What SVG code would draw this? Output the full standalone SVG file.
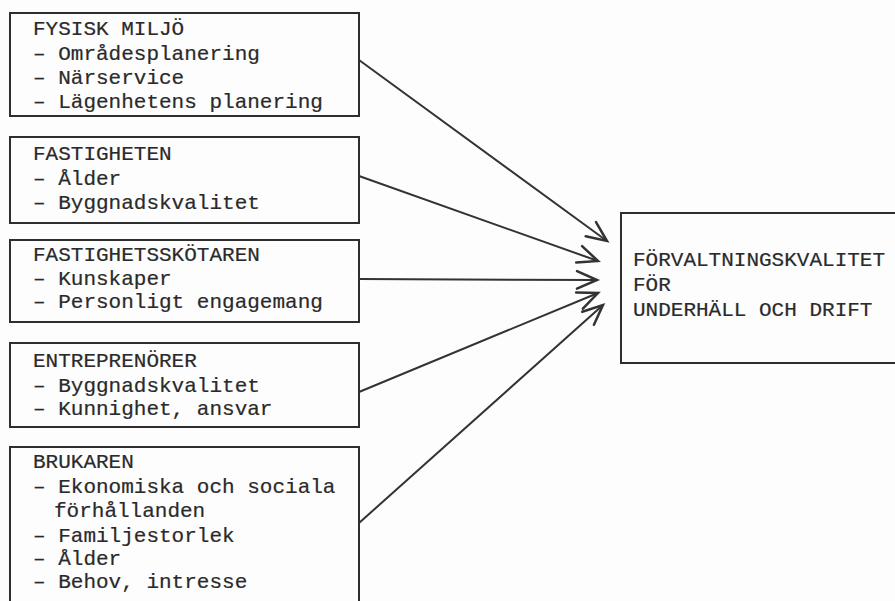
<svg xmlns="http://www.w3.org/2000/svg" width="895" height="601" viewBox="0 0 895 601">
<style>
.bg{fill:#fdfdfd}
.box{fill:none;stroke:#2e2e2e;stroke-width:2}
.t{font-family:"Liberation Mono","Courier New",monospace;font-size:21px;fill:#2a2a2a;stroke:#2a2a2a;stroke-width:0.2}
.c{fill:none;stroke:#333;stroke-width:2;stroke-linecap:round}
</style>
<defs>
<marker id="ah" markerUnits="userSpaceOnUse" markerWidth="30" markerHeight="30" viewBox="-20 -10 24 20" refX="0" refY="0" orient="auto">
<path d="M-16,-7 L0,0 L-16,7" fill="none" stroke="#333" stroke-width="2" stroke-linecap="round" stroke-linejoin="miter"/>
</marker>
</defs>
<rect class="bg" x="0" y="0" width="895" height="601"/>
<g id="n1">
<rect class="box" x="10" y="13" width="349" height="103"/>
<text class="t" x="33" y="35">FYSISK MILJÖ</text>
<text class="t" x="33" y="60">– Områdesplanering</text>
<text class="t" x="33" y="84">– Närservice</text>
<text class="t" x="33" y="108">– Lägenhetens planering</text>
</g>
<g id="n2">
<rect class="box" x="10" y="137" width="349" height="86"/>
<text class="t" x="33" y="160">FASTIGHETEN</text>
<text class="t" x="33" y="185">– Ålder</text>
<text class="t" x="33" y="209">– Byggnadskvalitet</text>
</g>
<g id="n3">
<rect class="box" x="10" y="240" width="349" height="82"/>
<text class="t" x="33" y="261">FASTIGHETSSKÖTAREN</text>
<text class="t" x="33" y="285">– Kunskaper</text>
<text class="t" x="33" y="308">– Personligt engagemang</text>
</g>
<g id="n4">
<rect class="box" x="10" y="343" width="349" height="84"/>
<text class="t" x="33" y="367">ENTREPRENÖRER</text>
<text class="t" x="33" y="392">– Byggnadskvalitet</text>
<text class="t" x="33" y="415">– Kunnighet, ansvar</text>
</g>
<g id="n5">
<path class="box" d="M10,601 V447 H359 V601"/>
<text class="t" x="33" y="468">BRUKAREN</text>
<text class="t" x="33" y="493">– Ekonomiska och sociala</text>
<text class="t" x="54" y="517">förhållanden</text>
<text class="t" x="33" y="542">– Familjestorlek</text>
<text class="t" x="33" y="565">– Ålder</text>
<text class="t" x="33" y="588">– Behov, intresse</text>
</g>
<g id="n6">
<path class="box" d="M897,213 H621 V363 H897"/>
<text class="t" x="633" y="266">FÖRVALTNINGSKVALITET</text>
<text class="t" x="633" y="291">FÖR</text>
<text class="t" x="633" y="316">UNDERHÄLL OCH DRIFT</text>
</g>
<g id="connectors">
<line class="c" x1="359" y1="60" x2="607" y2="241" marker-end="url(#ah)"/>
<line class="c" x1="359" y1="176" x2="598" y2="261" marker-end="url(#ah)"/>
<line class="c" x1="359" y1="279" x2="597" y2="280" marker-end="url(#ah)"/>
<line class="c" x1="359" y1="392" x2="598" y2="293" marker-end="url(#ah)"/>
<line class="c" x1="359" y1="523" x2="603" y2="305" marker-end="url(#ah)"/>
</g>
</svg>
